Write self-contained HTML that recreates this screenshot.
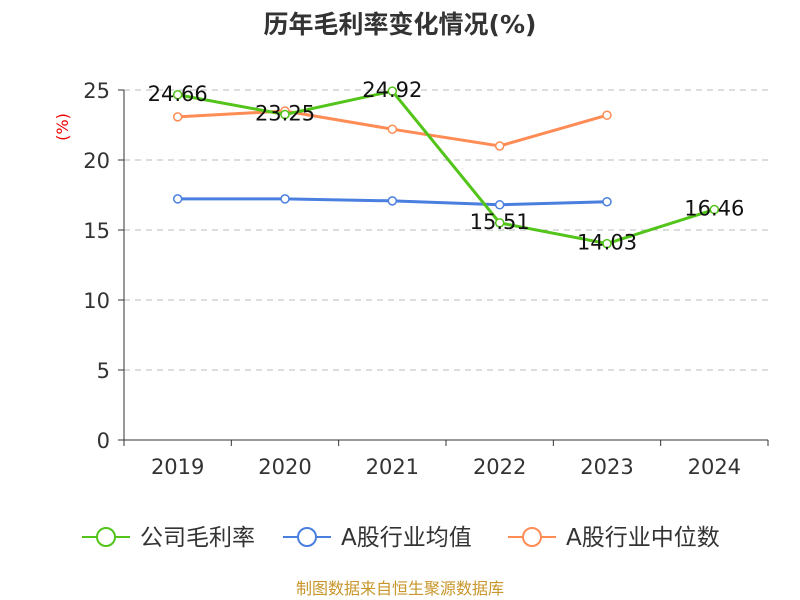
<!DOCTYPE html>
<html><head><meta charset="utf-8">
<style>
body{margin:0;background:#fff;}
svg{display:block;font-family:"DejaVu Sans","Noto Sans CJK SC",sans-serif;}
</style></head>
<body>
<svg id="chart" width="800" height="600">
<text x="400" y="33" text-anchor="middle" font-size="25" font-weight="bold" fill="#333">历年毛利率变化情况(%)</text>
<text x="68" y="127" text-anchor="middle" font-size="16" fill="#e00" transform="rotate(-90 68 127)">(%)</text>
<g id="grid"></g><g id="axes"></g><g id="series"></g>
<g>
 <g><line x1="82" y1="537" x2="130" y2="537" stroke="#52c41a" stroke-width="2"/><circle cx="106" cy="537" r="9" fill="#fff" stroke="#52c41a" stroke-width="2"/><text x="140" y="545" font-size="23" fill="#333">公司毛利率</text></g>
 <g><line x1="283" y1="537" x2="331" y2="537" stroke="#4a7fe0" stroke-width="2"/><circle cx="307" cy="537" r="9" fill="#fff" stroke="#4a7fe0" stroke-width="2"/><text x="341" y="545" font-size="23" fill="#333">A股行业均值</text></g>
 <g><line x1="508" y1="537" x2="556" y2="537" stroke="#ff8c55" stroke-width="2"/><circle cx="532" cy="537" r="9" fill="#fff" stroke="#ff8c55" stroke-width="2"/><text x="566" y="545" font-size="23" fill="#333">A股行业中位数</text></g>
</g>
<text x="400" y="594" text-anchor="middle" font-size="16" fill="#c8962a">制图数据来自恒生聚源数据库</text>
</svg>
<script>
const categories=["2019","2020","2021","2022","2023","2024"];
const companyValues=[24.66,23.25,24.92,15.51,14.03,16.46];
const meanValues=[17.22,17.22,17.08,16.8,17.02];
const medianValues=[23.08,23.5,22.2,21.0,23.2];
const yTicks=[0,5,10,15,20,25];
const NS="http://www.w3.org/2000/svg";
const x0=124,x1=768,yb=440,yt=90,ymax=25;
const bw=(x1-x0)/categories.length;
const xs=i=>x0+bw*(i+0.5);
const ys=v=>yb-(v/ymax)*(yb-yt);
function mk(tag,attrs,parent,text){const e=document.createElementNS(NS,tag);for(const k in attrs)e.setAttribute(k,attrs[k]);if(text!==undefined)e.textContent=text;parent.appendChild(e);return e;}
const grid=document.getElementById('grid'),axes=document.getElementById('axes'),series=document.getElementById('series');
yTicks.forEach(t=>{
 if(t>0){const g=mk('line',{x1:x0,x2:x1,y1:ys(t),y2:ys(t),stroke:'#bbb','stroke-dasharray':'6,5'},grid);
 
 }
 const tk=mk('line',{x1:x0-6,x2:x0,y1:ys(t),y2:ys(t),stroke:'#333'},axes);
 
 
 const l=mk('text',{x:x0-14,y:ys(t)+8,'text-anchor':'end','font-size':21,fill:'#333'},axes,String(t));
 
 
});
const ya=mk('line',{x1:x0,x2:x0,y1:yt,y2:yb,stroke:'#333'},axes);


const xa=mk('line',{x1:x0,x2:x1,y1:yb,y2:yb,stroke:'#333'},axes);


for(let i=0;i<=categories.length;i++){const t=mk('line',{x1:x0+bw*i,x2:x0+bw*i,y1:yb,y2:yb+6,stroke:'#333'},axes);
 
 }
categories.forEach((c,i)=>{const l=mk('text',{x:xs(i),y:yb+34,'text-anchor':'middle','font-size':21,fill:'#333'},axes,c);
 
 });
function drawSeries(vals,color,name,labels){
 const pts=vals.map((v,i)=>xs(i)+','+ys(v)).join(' ');
 const pl=mk('polyline',{points:pts,fill:'none',stroke:color,'stroke-width':3},series);
 
 
 vals.forEach((v,i)=>{const c=mk('circle',{cx:xs(i),cy:ys(v),r:4,fill:'#fff',stroke:color,'stroke-width':1.5},series);
  
  
  if(labels){const t=mk('text',{x:xs(i),y:ys(v)+6,'text-anchor':'middle','font-size':21,fill:'#111'},series,v.toFixed(2));
   
   }
 });
}
drawSeries(meanValues,'#4a7fe0','industry-mean',false);
drawSeries(medianValues,'#ff8c55','industry-median',false);
drawSeries(companyValues,'#52c41a','company',true);
</script>
</body></html>
